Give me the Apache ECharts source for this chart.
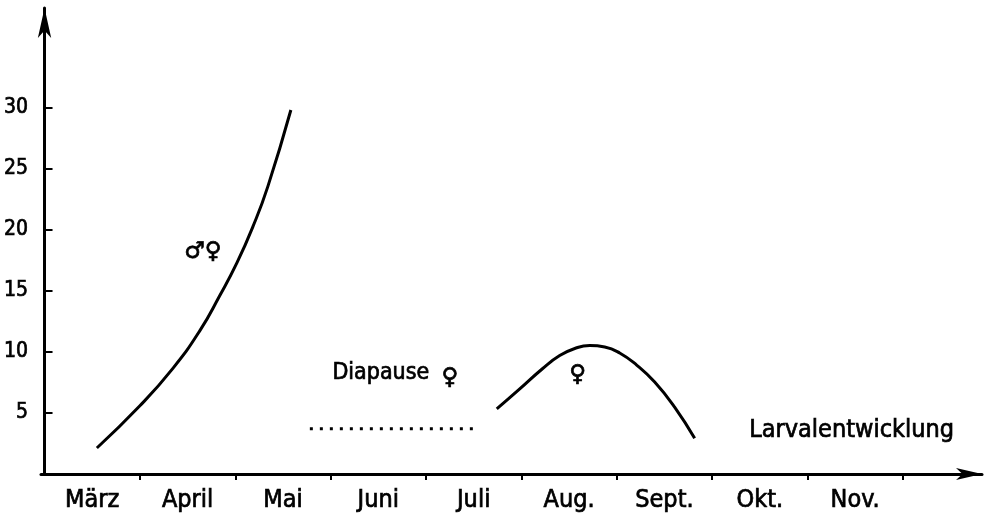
<!DOCTYPE html>
<html>
<head>
<meta charset="utf-8">
<script src="https://cdn.jsdelivr.net/npm/echarts@6/dist/echarts.min.js"></script>
<style>
html,body{margin:0;padding:0;background:#fff;}
#chart{width:985px;height:519px;}
</style>
</head>
<body>
<div id="chart"></div>
<script>
// Month categories (labels sit between tick marks)
const months = ['März', 'April', 'Mai', 'Juni', 'Juli', 'Aug.', 'Sept.', 'Okt.', 'Nov.'];
const yTickValues = [5, 10, 15, 20, 25, 30];

// Imagines ♂♀ curve (x in months from start of März, y value)
const imagoMonth = [0.549, 1.00, 1.346, 1.629, 1.838, 2.017, 2.185, 2.342, 2.583];
const imagoValue = [2.13, 5.59, 8.66, 11.75, 14.63, 17.30, 20.28, 23.58, 29.84];

// Diapause ♀ (dotted)
const diapauseMonth = [2.782, 4.564];
const diapauseValue = [3.7, 3.7];

// ♀ curve in summer
const femaleMonth = [4.742, 4.983, 5.224, 5.402, 5.560, 5.717, 5.874, 6.031, 6.209, 6.398, 6.607, 6.817];
const femaleValue = [5.33, 6.97, 8.65, 9.71, 10.29, 10.53, 10.41, 9.92, 8.93, 7.54, 5.49, 2.93];

const pairs = (xs, ys) => xs.map((x, i) => [x, ys[i]]);

const COND = '"DejaVu Sans Condensed", "DejaVu Sans", sans-serif';
const SYM = '"DejaVu Sans", sans-serif';
const INK = {color: '#000', textBorderColor: '#000', textBorderWidth: 0.7};

const chart = echarts.init(document.getElementById('chart'), null, {renderer: 'canvas'});

const textPoint = (x, y, text, font, size, weight) => ({
  type: 'scatter',
  silent: true,
  symbol: 'circle',
  symbolSize: 1,
  itemStyle: {color: 'rgba(0,0,0,0)', opacity: 1},
  data: [{value: [x, y], name: text}],
  label: Object.assign({
    show: true, position: 'inside', formatter: '{b}',
    opacity: 1, fontFamily: font, fontSize: size, fontWeight: weight || 'normal'
  }, INK),
  z: 5
});

chart.setOption({
  animation: false,
  backgroundColor: '#fff',
  grid: {left: 41, right: 3, top: 8, bottom: 45, containLabel: false},
  xAxis: {
    type: 'value', min: -0.037, max: 9.83,
    splitLine: {show: false},
    axisLine: {show: true, lineStyle: {color: '#000', width: 3},
      symbol: ['none', 'arrow'], symbolSize: [9, 26], symbolOffset: [0, 0]},
    axisTick: {show: true, inside: false, length: 6, lineStyle: {color: '#000', width: 2},
      customValues: [1, 2, 3, 4, 5, 6, 7, 8, 9]},
    axisLabel: Object.assign({show: true, fontFamily: COND, fontSize: 25, margin: 14,
      customValues: months.map((m, i) => i + 0.5),
      formatter: v => months[Math.round(v - 0.5)] || ''}, INK)
  },
  yAxis: {
    type: 'value', min: 0, max: 38.2,
    splitLine: {show: false},
    axisLine: {show: true, lineStyle: {color: '#000', width: 3},
      symbol: ['none', 'arrow'], symbolSize: [10, 30], symbolOffset: [0, 0]},
    axisTick: {show: true, inside: true, length: 8, lineStyle: {color: '#000', width: 2},
      customValues: yTickValues},
    axisLabel: Object.assign({show: true, fontFamily: COND, fontSize: 21, margin: 13,
      customValues: yTickValues}, INK)
  },
  series: [
    {
      type: 'line', silent: true, smooth: 0.5, symbol: 'none',
      data: pairs(imagoMonth, imagoValue),
      lineStyle: {color: '#000', width: 3}
    },
    {
      type: 'line', silent: true, symbol: 'none',
      data: pairs(diapauseMonth, diapauseValue),
      lineStyle: {color: '#000', width: 3, type: [3, 7]}
    },
    {
      type: 'line', silent: true, smooth: 0.5, symbol: 'none',
      data: pairs(femaleMonth, femaleValue),
      lineStyle: {color: '#000', width: 3}
    },
    textPoint(1.661, 18.2, '♂♀', SYM, 23, 'bold'),
    textPoint(3.526, 8.28, 'Diapause', COND, 23),
    textPoint(4.250, 7.87, '♀', SYM, 23, 'bold'),
    textPoint(5.591, 8.11, '♀', SYM, 23, 'bold'),
    textPoint(8.463, 3.6, 'Larvalentwicklung', COND, 25)
  ]
});
</script>
</body>
</html>
